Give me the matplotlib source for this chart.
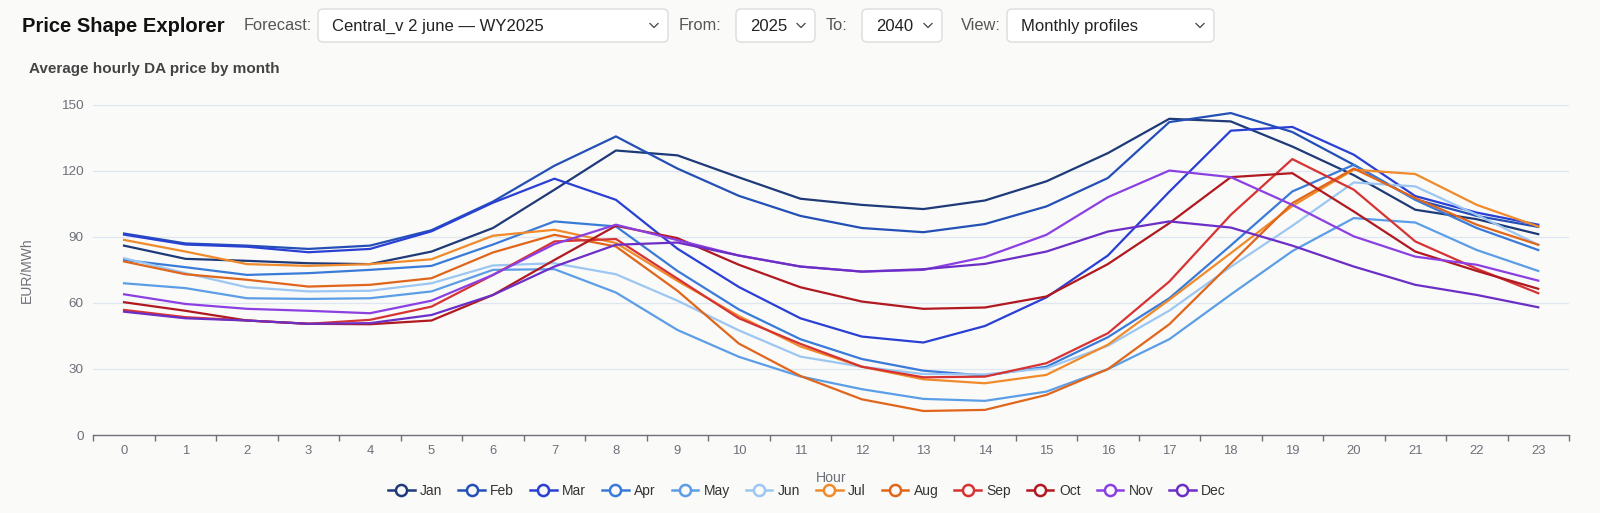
import numpy as np
import matplotlib
matplotlib.use("Agg")
import matplotlib.pyplot as plt
from matplotlib.lines import Line2D
from matplotlib.patches import FancyBboxPatch

W, H = 1600, 513
BG = "#fafaf9"
AXIS_C = "#6e7079"
GRID_C = "#e0e6f1"

plt.rcParams["font.family"] = ["Liberation Sans", "DejaVu Sans"]

hours = list(range(24))
months = ["Jan", "Feb", "Mar", "Apr", "May", "Jun",
          "Jul", "Aug", "Sep", "Oct", "Nov", "Dec"]
colors = ["#1f3a78", "#2450b6", "#2a40d4", "#3a7bd8", "#5c9ee6", "#9cc7f2",
          "#f08a2a", "#e0661b", "#d63333", "#b0191f", "#8c40e2", "#6c2fc6"]

jan = [86, 80, 79.1, 78, 77.6, 83.3, 94, 111.4, 129.2, 127, 117, 107.3,
       104.5, 102.6, 106.5, 115.2, 128, 143.6, 142.4, 131, 118, 102.3, 98, 91.2]
feb = [91.5, 87, 86, 84.5, 86, 93, 106, 122.3, 135.6, 121, 108.6, 99.5,
       94, 92.1, 95.8, 103.8, 116.7, 142.1, 146.2, 137.6, 122.7, 107, 99.5, 94.5]
mar = [91, 86.5, 85.5, 83, 84.5, 92.5, 105.5, 116.4, 106.8, 84.6, 67.2, 53,
       44.7, 42, 49.5, 62.5, 81.5, 110.5, 138.2, 139.9, 127.3, 108.5, 101, 95.5]
apr = [79.5, 76.2, 72.7, 73.5, 75, 76.8, 86.5, 97, 94.7, 74.5, 57, 43.5,
       34.5, 29.2, 27, 31, 44.4, 62.1, 86.1, 110.6, 122.7, 106.8, 94, 84]
may = [68.9, 66.7, 62.1, 61.8, 62.1, 65.2, 75, 75.3, 64.7, 47.7, 35.5, 26.6,
       20.8, 16.4, 15.5, 19.7, 29.9, 43.5, 63.8, 83.5, 98.5, 96.5, 84, 74.5]
jun = [80.3, 73.5, 67.1, 65.2, 65.5, 68.9, 77, 78, 73, 61, 47.5, 35.6,
       31, 27.7, 27.5, 30.3, 40.5, 56.5, 76.4, 95, 114.7, 112.9, 100, 86.4]
jul = [88.6, 83.3, 77.6, 76.8, 77.6, 79.8, 90.5, 93.2, 87.2, 70, 54, 40.2,
       31, 25.3, 23.5, 27.3, 41, 61.4, 82.6, 104, 120.5, 118.5, 104.5, 94.7]
aug = [78.8, 73, 70.5, 67.4, 68.2, 71.2, 82.9, 90.9, 85.6, 65.5, 41.5, 26.8,
       16.2, 10.9, 11.4, 18.2, 29.9, 50.3, 77.9, 105.3, 121, 107.6, 95.5, 86.4]
sep = [56.8, 53.5, 52, 50.5, 52.3, 58.3, 72.7, 87.9, 89, 71, 53, 41.4,
       31, 26.2, 26.5, 32.6, 46.2, 69.7, 100, 125.3, 111.4, 87.9, 75.5, 64.4]
oct_ = [60.3, 56.4, 52, 50.5, 50.3, 52, 63.6, 79.5, 95, 89.4, 77.3, 67.1,
        60.6, 57.3, 57.9, 62.9, 77.6, 96.2, 117.1, 118.9, 101.5, 83.3, 74.5, 66.4]
nov = [63.9, 59.5, 57.3, 56.4, 55.3, 61, 72.7, 86.7, 95.5, 88.5, 81.5, 76.5,
       74.2, 75, 80.8, 90.9, 108, 120.1, 117.1, 104.5, 90.2, 81, 77.3, 70.1]
dec = [56, 53, 52, 50.5, 50.8, 54.5, 63.6, 76.5, 86.4, 87.4, 81.5, 76.5,
       74.2, 75.3, 77.7, 83.3, 92.4, 97, 94.2, 86, 76.5, 68.2, 63.6, 58]
series = [jan, feb, mar, apr, may, jun, jul, aug, sep, oct_, nov, dec]

y_ticks = [0, 30, 60, 90, 120, 150]

fig = plt.figure(figsize=(W / 100, H / 100), dpi=100, facecolor=BG)

# pixel-space background axes for header controls
bg = fig.add_axes([0, 0, 1, 1], zorder=0)
bg.set_xlim(0, W)
bg.set_ylim(H, 0)
bg.axis("off")


def dropdown(x0, x1, y0, y1, label):
    box = FancyBboxPatch((x0, y0), x1 - x0, y1 - y0,
                         boxstyle="round,pad=0,rounding_size=5",
                         facecolor="white", edgecolor="#dcdcdc", linewidth=1.0)
    bg.add_patch(box)
    bg.text(x0 + 14, (y0 + y1) / 2 + 1, label, fontsize=12, color="#222222",
            va="center", ha="left")
    cx, cy = x1 - 14, (y0 + y1) / 2
    bg.plot([cx - 4, cx, cx + 4], [cy - 2, cy + 2, cy - 2], color="#444444", lw=0.9)


bg.text(22, 27, "Price Shape Explorer", fontsize=14.5, fontweight="bold",
        color="#111111", va="center", ha="left")
bg.text(244, 26, "Forecast:", fontsize=11.8, color="#555555", va="center")
dropdown(318, 668, 9, 42, "Central_v 2 june \u2014 WY2025")
bg.text(679, 26, "From:", fontsize=11.8, color="#555555", va="center")
dropdown(736, 815, 9, 42, "2025")
bg.text(826, 26, "To:", fontsize=11.8, color="#555555", va="center")
dropdown(862, 942, 9, 42, "2040")
bg.text(961, 26, "View:", fontsize=11.8, color="#555555", va="center")
dropdown(1007, 1214, 9, 42, "Monthly profiles")
bg.text(29, 69, "Average hourly DA price by month", fontsize=11, fontweight="bold",
        color="#444444", va="center", ha="left")

# main chart
left, right, top, bottom = 93.3, 1569, 104.7, 435
ax = fig.add_axes([left / W, 1 - bottom / H, (right - left) / W, (bottom - top) / H],
                  zorder=1)
ax.set_facecolor("none")

for name, vals, c in zip(months, series, colors):
    ax.plot(hours, vals, color=c, lw=1.6, label=name, solid_joinstyle="round", zorder=3)

ax.set_xlim(-0.5, 23.5)
ax.set_ylim(0, 150)
ax.set_yticks(y_ticks)
ax.yaxis.grid(True, color=GRID_C, lw=0.9)
ax.set_axisbelow(True)
for s in ("top", "right", "left"):
    ax.spines[s].set_visible(False)
ax.spines["bottom"].set_color(AXIS_C)
ax.spines["bottom"].set_linewidth(1.0)

ax.set_xticks(hours)
ax.set_xticklabels([str(h) for h in hours])
ax.set_xticks(np.arange(-0.5, 24, 1), minor=True)
ax.tick_params(axis="x", which="major", length=0, pad=7, labelsize=9.4, labelcolor=AXIS_C)
ax.tick_params(axis="x", which="minor", length=4, width=1.0, color=AXIS_C)
ax.tick_params(axis="y", length=0, pad=7, labelsize=9.7, labelcolor=AXIS_C)

ax.set_xlabel("Hour", fontsize=10.2, color=AXIS_C)
ax.xaxis.set_label_coords(0.5, -0.13)
ax.xaxis.label.set_va("center")
ax.set_ylabel("EUR/MWh", fontsize=10, color=AXIS_C)
ax.yaxis.set_label_coords(-0.045, 0.5)
ax.yaxis.label.set_va("center")

handles = [Line2D([0], [0], color=c, lw=1.8, marker="o", markersize=8,
                  markerfacecolor=BG, markeredgecolor=c, markeredgewidth=1.8)
           for c in colors]
fig.legend(handles, months, loc="center", bbox_to_anchor=(807 / W, 1 - 491 / H),
           ncol=12, frameon=False, fontsize=10, handlelength=1.9,
           handletextpad=0.4, columnspacing=1.15, labelcolor="#333333")

fig.savefig("out.png", dpi=100, facecolor=BG)
